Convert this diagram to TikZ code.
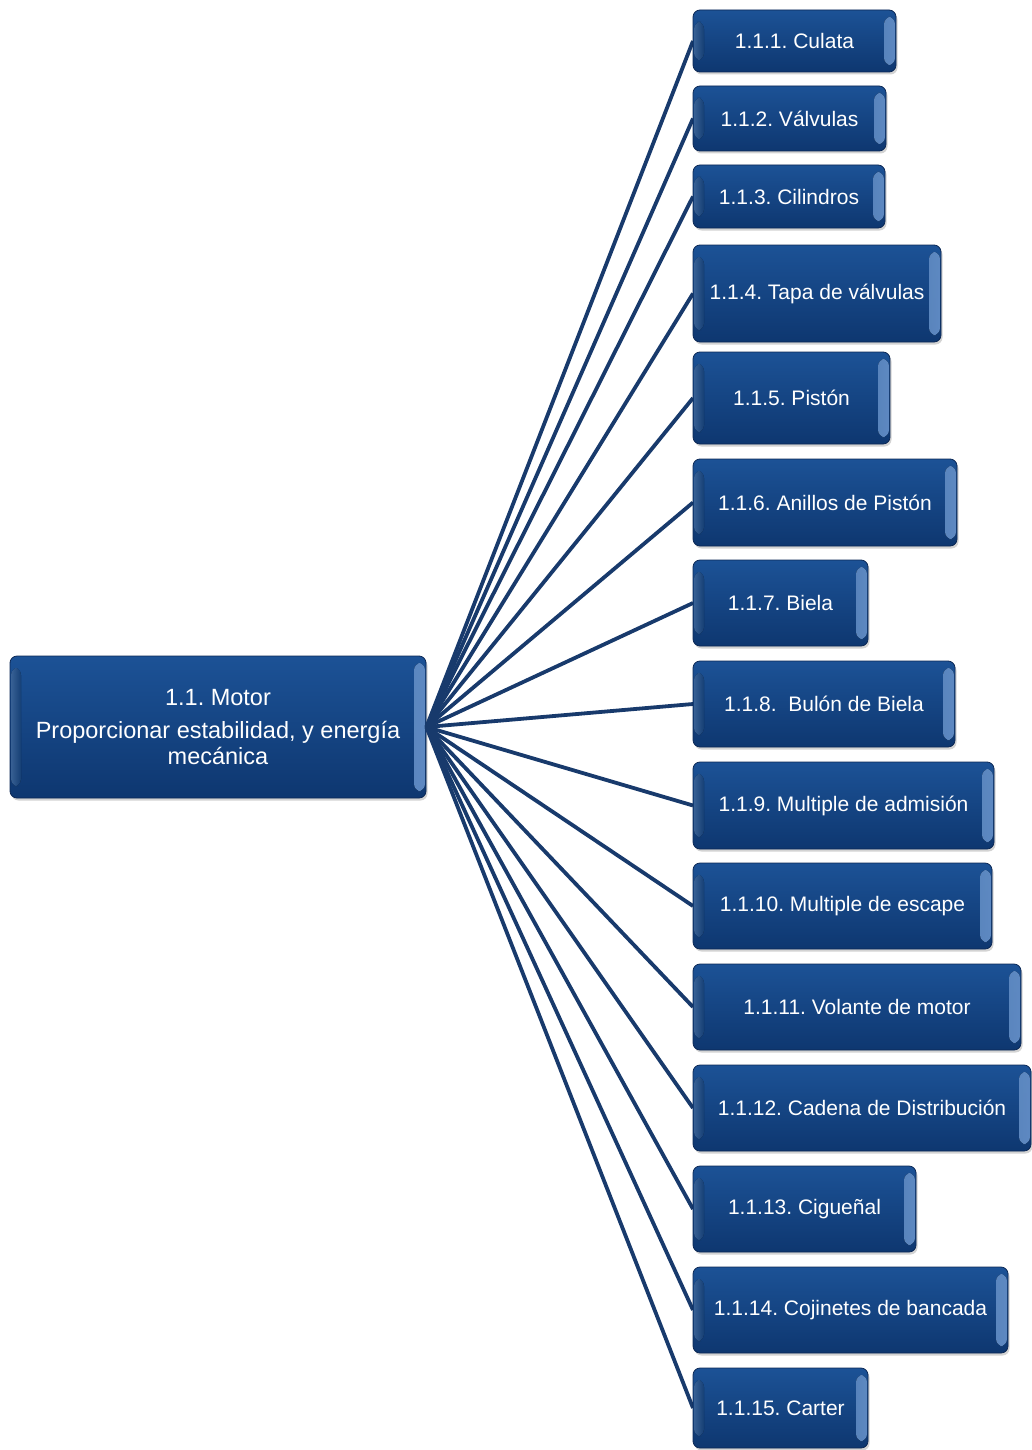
\documentclass[tikz,border=0pt]{standalone}
\usepackage{fontspec}
\setmainfont{Liberation Sans}
\usetikzlibrary{shadows}
\definecolor{ctop}{RGB}{28,82,150}
\definecolor{cbot}{RGB}{14,55,112}
\definecolor{cedge}{RGB}{12,40,85}
\definecolor{clight}{RGB}{110,160,225}
\definecolor{cline}{RGB}{24,58,108}
\tikzset{
  box/.style={rounded corners=7pt, draw=cedge, line width=0.8pt,
    top color=ctop, bottom color=cbot, text=white, align=center, inner sep=0pt,
    font=\fontsize{21}{25}\selectfont,
    drop shadow={shadow xshift=1.5pt, shadow yshift=-2.5pt, opacity=0.35},
    path picture={
      \fill[left color=cbot, right color=clight, opacity=0.85]
        ([xshift=-12pt,yshift=-7pt]path picture bounding box.north east) rectangle
        ([xshift=-1pt,yshift=7pt]path picture bounding box.south east);
      \fill[left color=clight!60!ctop, right color=ctop, opacity=0.7]
        ([xshift=1pt,yshift=-12pt]path picture bounding box.north west) rectangle
        ([xshift=11pt,yshift=12pt]path picture bounding box.south west);
    }},
  conn/.style={draw=cline, line width=3.8pt}
}
\begin{document}
\frenchspacing
\begin{tikzpicture}[x=1pt,y=-1pt]
\useasboundingbox (0,0) rectangle (1032,1450);
\node[box, minimum width=416pt, minimum height=142pt, font=\fontsize{23.5}{26}\selectfont] (main) at (218,727)
  {1.1. Motor\\[7pt]Proporcionar estabilidad, y energía\\mecánica};
\foreach \i/\xr/\yt/\yb/\t in {
  1/896/10/72/{1.1.1. Culata},
  2/886/86/151/{1.1.2. Válvulas},
  3/885/165/228/{1.1.3. Cilindros},
  4/941/245/342/{1.1.4. Tapa de válvulas},
  5/890/352/444/{1.1.5. Pistón},
  6/957/459/546/{1.1.6. Anillos de Pistón},
  7/868/560/646/{1.1.7. Biela},
  8/955/661/747/{1.1.8.\ \ Bulón de Biela},
  9/994/762/849/{1.1.9. Multiple de admisión},
  10/992/863/949/{1.1.10. Multiple de escape},
  11/1021/964/1050/{1.1.11. Volante de motor},
  12/1031/1065/1151/{1.1.12. Cadena de Distribución},
  13/916/1166/1252/{1.1.13. Cigueñal},
  14/1008/1267/1353/{1.1.14. Cojinetes de bancada},
  15/868/1368/1448/{1.1.15. Carter}}{
  \pgfmathsetmacro\cx{(693+\xr)/2}
  \pgfmathsetmacro\cy{(\yt+\yb)/2}
  \pgfmathsetmacro\w{\xr-693}
  \pgfmathsetmacro\h{\yb-\yt}
  \draw[conn] (main.east) -- (693,\cy);
  \node[box, minimum width=\w pt, minimum height=\h pt] (n\i) at (\cx,\cy) {\t};
}
\end{tikzpicture}
\end{document}
